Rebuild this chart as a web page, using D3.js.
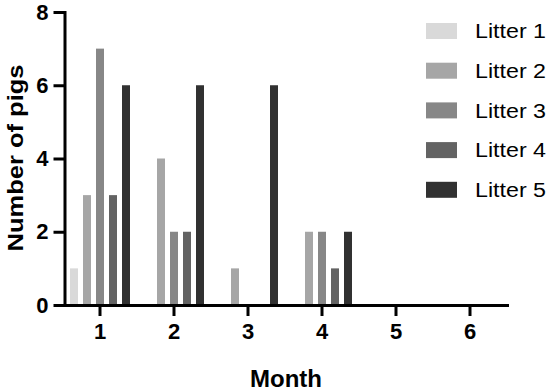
<!DOCTYPE html>
<meta charset="utf-8">
<head>
	<title>Number of pigs by month</title>
	<style>
		body { margin: 0; background: #fff; }
		svg { display: block; }
		.axis path, .axis line { stroke: #000; stroke-width: 3; }
		.axis text { font: bold 22px "Liberation Sans", Arial, sans-serif; fill: #000; }
		.axisTitle { font: bold 23px "Liberation Sans", Arial, sans-serif; fill: #000; }
		.legendText { font: 20px "Liberation Sans", Arial, sans-serif; fill: #000; }
	</style>
	<script src="https://d3js.org/d3.v7.min.js"></script>
</head>
<body>
	<div id="graph"></div>
	<script>
		const months = [1, 2, 3, 4, 5, 6];
		const litters = ['Litter 1', 'Litter 2', 'Litter 3', 'Litter 4', 'Litter 5'];
		const litterColors = ['#d9d9d9', '#a6a6a6', '#878787', '#636363', '#313131'];
		// pigs per month, one array per litter
		const litter1 = [1, 0, 0, 0, 0, 0];
		const litter2 = [3, 4, 1, 2, 0, 0];
		const litter3 = [7, 2, 0, 2, 0, 0];
		const litter4 = [3, 2, 0, 1, 0, 0];
		const litter5 = [6, 6, 6, 2, 0, 0];
		const yTicks = [0, 2, 4, 6, 8];

		const series = [litter1, litter2, litter3, litter4, litter5];
		const W = 550, H = 391;

		const svg = d3.select('#graph').append('svg').attr('width', W).attr('height', H);

		const x = d3.scaleBand().domain(months).range([63, 507]);
		const inner = d3.scaleBand().domain(litters).range([-32.5, 32.5]).paddingInner(0.385).paddingOuter(0.1925);
		const y = d3.scaleLinear().domain([0, 8]).range([305, 12]);

		//bars, grouped by month
		const groups = svg.append('g').selectAll('g').data(months).join('g')
			.attr('transform', m => `translate(${x(m) + x.bandwidth()/2},0)`);
		groups.selectAll('rect')
			.data((m, i) => litters.map((l, j) => ({litter: l, color: litterColors[j], value: series[j][i]})))
			.join('rect')
			.attr('x', d => inner(d.litter))
			.attr('width', inner.bandwidth())
			.attr('y', d => y(d.value))
			.attr('height', d => y(0) - y(d.value))
			.attr('fill', d => d.color);

		//axes
		svg.append('g').attr('class', 'axis').attr('transform', 'translate(0,305)')
			.call(d3.axisBottom(x).tickSize(11).tickSizeOuter(0).tickPadding(7));
		svg.append('g').attr('class', 'axis').attr('transform', 'translate(64.5,0)')
			.call(d3.axisLeft(y).tickValues(yTicks).tickSize(11).tickSizeOuter(0).tickPadding(5));
		svg.selectAll('.axis .domain').attr('stroke-linecap', 'square');

		//titles, stretched a little to the widths seen in the picture
		svg.append('text').attr('class', 'axisTitle')
			.attr('transform', 'translate(23,158) rotate(-90)')
			.attr('text-anchor', 'middle').style('font-size', '22px')
			.attr('textLength', 187).attr('lengthAdjust', 'spacingAndGlyphs')
			.text('Number of pigs');
		svg.append('text').attr('class', 'axisTitle')
			.attr('x', 286).attr('y', 387).attr('text-anchor', 'middle')
			.attr('textLength', 72).attr('lengthAdjust', 'spacingAndGlyphs')
			.text('Month');

		//legend
		const legend = svg.append('g').selectAll('g').data(litters).join('g')
			.attr('transform', (d, i) => `translate(426,${31 + i*39.7})`);
		legend.append('rect').attr('x', 0).attr('y', -8).attr('width', 31).attr('height', 16)
			.attr('fill', (d, i) => litterColors[i]);
		legend.append('text').attr('class', 'legendText')
			.attr('x', 49).attr('y', 0).attr('dy', '0.36em')
			.attr('textLength', 71).attr('lengthAdjust', 'spacingAndGlyphs')
			.text(d => d);
	</script>
</body>
